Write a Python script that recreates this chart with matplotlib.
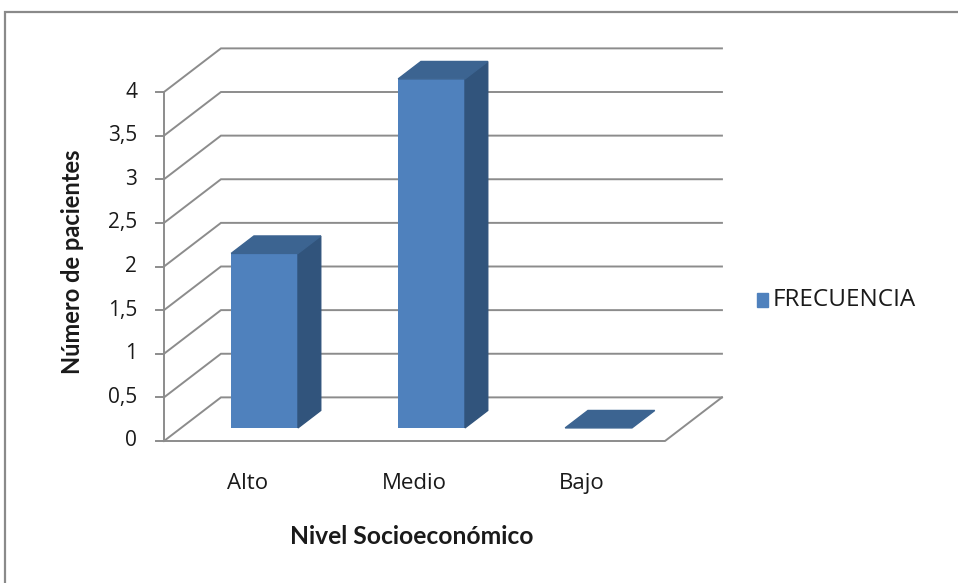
import numpy as np
import matplotlib
matplotlib.use('Agg')
import matplotlib.pyplot as plt
from matplotlib.patches import Polygon, Rectangle

plt.rcParams['font.family'] = ['Open Sans', 'DejaVu Sans']

# data
categories = ['Alto', 'Medio', 'Bajo']
frecuencia = [2, 4, 0]
yticks = [0, 0.5, 1, 1.5, 2, 2.5, 3, 3.5, 4]
ytick_labels = ['0', '0,5', '1', '1,5', '2', '2,5', '3', '3,5', '4']
serie = 'FRECUENCIA'

# oblique projection: depth 1 shifts by (kx, ky) in data units
kx, ky = 0.341, 0.5
d0, d1 = 0.3, 0.7      # bar depth span
bw = 0.4               # bar width (category units)
grid_c = '#8c8c8c'
front_c, top_c, side_c = '#4f81bd', '#3c6491', '#31547c'
txt_c = '#1a1a1a'

W, H = 958, 583
fig = plt.figure(figsize=(W / 100, H / 100), dpi=100)
ax = fig.add_axes([0, 0, 1, 1])
# pixel origin of the front plane: (164, 441), 167 px per category, 87.25 px per unit
ox, oy, sx, sy = 164, 441, 167, 87.25
ax.set_xlim(-ox / sx, (W - ox) / sx)
ax.set_ylim(-(H - oy) / sy, oy / sy)
ax.axis('off')

n = len(categories)

# back wall and side wall gridlines
for v in yticks:
    ax.plot([0, kx, n + kx], [v, v + ky, v + ky], color=grid_c, lw=1.4,
            solid_joinstyle='miter', zorder=1)
# floor
ax.plot([0, n, n + kx], [0, 0, ky], color=grid_c, lw=1.4, zorder=1)
# vertical axis with ticks
ax.plot([0, 0], [0, yticks[-1]], color=grid_c, lw=1.4, zorder=1)
for v, lab in zip(yticks, ytick_labels):
    ax.plot([-0.05, 0], [v, v], color=grid_c, lw=1.4, zorder=1)
    ax.text(-27 / sx, v, lab, ha='right', va='center', fontsize=15, color=txt_c)

# 3d columns
for i, v in enumerate(frecuencia):
    x0 = i + (1 - bw) / 2 + d0 * kx
    x1 = x0 + bw
    y0 = d0 * ky
    dx, dy = (d1 - d0) * kx, (d1 - d0) * ky
    if v > 0:
        ax.bar(x0, v, width=bw, bottom=y0, align='edge', color=front_c, zorder=3)
        ax.add_patch(Polygon([(x1, y0), (x1 + dx, y0 + dy), (x1 + dx, y0 + dy + v), (x1, y0 + v)],
                             closed=True, color=side_c, zorder=3))
    ax.add_patch(Polygon([(x0, y0 + v), (x1, y0 + v), (x1 + dx, y0 + v + dy), (x0 + dx, y0 + v + dy)],
                         closed=True, color=top_c, zorder=3))
    ax.text(i + 0.5, -0.49, categories[i], ha='center', va='center', fontsize=16, color=txt_c)

# axis titles
ax.text(-92 / sx, (oy - 262) / sy, 'Número de pacientes', rotation=90, ha='center', va='center',
        fontsize=17, fontweight='bold', color=txt_c, family='Lato')
ax.text((412 - ox) / sx, (oy - 537) / sy, 'Nivel Socioeconómico', ha='center', va='center',
        fontsize=17.7, fontweight='bold', color=txt_c, family='Lato')

# legend
lx, ly = (757 - ox) / sx, (oy - 300) / sy
ax.add_patch(Rectangle((lx, ly - 7 / sy), 11 / sx, 14 / sy, color=front_c, zorder=3))
ax.text(lx + 16 / sx, ly, serie, ha='left', va='center', fontsize=17.5, color=txt_c)

# chart frame
fig.add_artist(Rectangle((5 / W, -0.1), 1.2, (H - 12) / H + 0.1, transform=fig.transFigure,
                         fill=False, edgecolor='#8a8a8a', lw=1.6))

fig.savefig('out.png', dpi=100)
